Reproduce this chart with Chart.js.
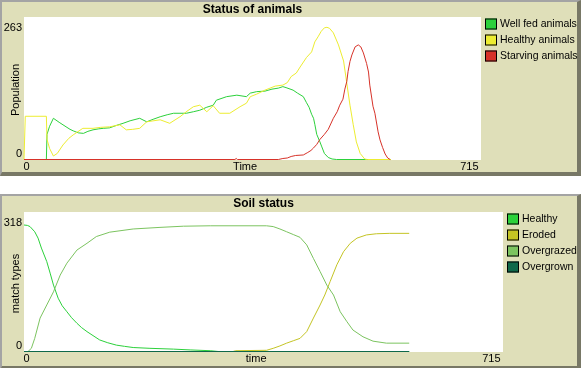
<!DOCTYPE html>
<html>
<head>
<meta charset="utf-8">
<script src="https://cdn.jsdelivr.net/npm/chart.js@4"></script>
<style>
html,body{margin:0;padding:0;background:#ffffff;width:582px;height:368px;overflow:hidden;position:relative}
.panel{position:absolute;left:0;width:581px;box-sizing:border-box;background:#dfdfb9;
  border-top:2px solid #a4a4a4;border-left:2px solid #a4a4a4;border-right:4px solid #787866;border-bottom:4px solid #787866}
#p1{top:0;height:176px}
#p2{top:194px;height:176px}
canvas{position:absolute;left:0}
#c1{top:0}
#c2{top:194px}
</style>
</head>
<body>
<div class="panel" id="p1"></div>
<div class="panel" id="p2"></div>
<canvas id="c1" width="582" height="176"></canvas>
<canvas id="c2" width="582" height="174"></canvas>
<script>
// ---------- data: Status of animals (tick, count) ----------
const animalsTitle = 'Status of animals';
const animalsXLabel = 'Time';
const animalsYLabel = 'Population';
const animalsXRange = [0, 715];
const animalsYRange = [0, 263];
const animalsSeriesNames = ['Well fed animals', 'Healthy animals', 'Starving animals'];

const wellFedAnimals = [[0,0],[35,0],[36,50],[40,66],[46,82],[55,74],[61,69],[72,60],[77,57],[85,53],[93,52],[100,56],[108,59],[117,61],[124,62],[134,63],[145,68],[155,72],[166,77],[181,82],[192,75],[202,80],[213,85],[224,89],[234,92],[244,92],[254,92],[265,95],[275,98],[286,104],[296,108],[301,118],[317,125],[333,128],[348,125],[354,132],[364,135],[377,136],[388,140],[398,142],[405,145],[410,143],[421,138],[428,132],[437,125],[442,113],[446,104],[450,90],[453,82],[455,70],[458,50],[463,35],[466,25],[470,12],[476,4],[482,1],[489,0],[574,0]];
const healthyAnimals = [[0,0],[2,86],[35,86],[36,40],[40,22],[46,7],[52,12],[61,29],[70,42],[77,49],[92,62],[108,62],[120,64],[134,65],[150,69],[160,59],[170,60],[181,62],[192,75],[213,79],[228,72],[244,85],[255,96],[265,105],[275,108],[286,95],[296,107],[306,92],[322,92],[338,105],[348,112],[354,125],[364,130],[377,138],[393,146],[405,148],[412,153],[418,165],[426,172],[432,184],[442,203],[450,214],[455,234],[460,244],[465,255],[470,262],[474,263],[478,261],[484,252],[492,228],[500,196],[505,152],[510,108],[515,70],[520,35],[526,12],[533,1],[537,0],[574,0]];
const starvingAnimals = [[0,0],[330,0],[332,2],[334,0],[398,0],[405,2],[412,3],[418,6],[425,8],[437,9],[444,14],[449,18],[453,23],[458,30],[463,40],[470,50],[476,60],[484,82],[490,95],[494,108],[499,120],[502,140],[505,155],[507,175],[510,195],[513,208],[518,224],[523,228],[527,224],[531,212],[536,191],[539,174],[541,148],[546,106],[549,92],[554,55],[557,39],[561,24],[565,11],[569,3],[573,0],[574,0]];

// ---------- data: Soil status (tick, patch count) ----------
const soilTitle = 'Soil status';
const soilXLabel = 'time';
const soilYLabel = 'match types';
const soilXRange = [0, 715];
const soilYRange = [0, 318];
const soilSeriesNames = ['Healthy', 'Eroded', 'Overgrazed', 'Overgrown'];

const soilHealthy = [[0,318],[5,317],[9,314],[16,301],[21,285],[26,260],[34,226],[39,197],[44,167],[51,134],[57,115],[64,100],[71,85],[79,71],[86,60],[94,50],[103,40],[113,29],[125,22],[138,16],[150,13],[163,10],[188,8],[223,6],[248,4],[278,2],[290,0],[575,0]];
const soilEroded = [[0,0],[312,0],[316,2],[362,3],[372,8],[382,14],[392,21],[402,27],[412,33],[422,50],[432,84],[442,117],[449,142],[457,176],[467,218],[477,251],[487,272],[497,285],[511,293],[526,296],[546,297],[575,297]];
const soilOvergrazed = [[0,0],[6,0],[11,8],[16,33],[24,84],[34,117],[44,150],[54,192],[64,222],[79,255],[94,272],[108,289],[128,300],[163,308],[203,312],[238,315],[278,316],[362,316],[372,314],[382,308],[392,301],[402,294],[412,287],[422,268],[432,234],[442,201],[452,167],[462,142],[472,100],[482,75],[491,54],[506,37],[521,26],[541,21],[575,21]];
const soilOvergrown = [[0,0],[575,0]];

// ---------- styles ----------
const animalColors = ['rgb(44,209,59)', 'rgb(237,237,49)', 'rgb(215,50,41)'];
const soilColors = ['rgb(44,209,59)', 'rgb(196,196,36)', 'rgb(124,196,96)', 'rgb(14,104,74)'];
const FONT = '"Liberation Sans", Arial, sans-serif';

const toPoints = arr => arr.map(p => ({x: p[0], y: p[1]}));

const netlogoPlot = {
  id: 'netlogoPlot',
  beforeDatasetsDraw(chart, args, o) {
    const ctx = chart.ctx, a = chart.chartArea;
    ctx.save();
    ctx.fillStyle = '#ffffff';
    const top = a.top - o.headroom;
    ctx.fillRect(a.left, top, a.right - a.left, a.bottom + 0.5 - top);
    ctx.restore();
  },
  afterDraw(chart, args, o) {
    const ctx = chart.ctx, a = chart.chartArea;
    const xs = chart.scales.x, ys = chart.scales.y;
    const boxTop = a.top - o.headroom, boxBottom = a.bottom + 0.5;
    ctx.save();
    ctx.fillStyle = '#000';
    // title
    ctx.font = 'bold 12px ' + FONT;
    ctx.textAlign = 'center';
    ctx.textBaseline = 'middle';
    ctx.fillText(o.title, (a.left + a.right) / 2, o.titleY);
    // y tick labels
    ctx.font = '11px ' + FONT;
    ctx.textAlign = 'right';
    ctx.textBaseline = 'middle';
    ctx.fillText(String(ys.max), a.left - 2, boxTop + 10.5);
    ctx.textBaseline = 'alphabetic';
    ctx.fillText(String(ys.min), a.left - 2, boxBottom - 3.5);
    // x tick labels
    ctx.textBaseline = 'middle';
    ctx.textAlign = 'left';
    const minX = String(xs.min), maxX = String(xs.max);
    ctx.fillText(minX, xs.getPixelForValue(xs.min) - 0.5, boxBottom + 7);
    ctx.textAlign = 'right';
    ctx.fillText(maxX, xs.getPixelForValue(xs.max) - 2.5, boxBottom + 7);
    // x axis title centered between tick labels
    const l = a.left + ctx.measureText(minX).width;
    const r = a.right - 2.5 - ctx.measureText(maxX).width;
    ctx.textAlign = 'center';
    ctx.fillText(o.xLabel, (l + r) / 2, boxBottom + 7);
    // y axis title
    ctx.save();
    ctx.translate(16, (boxTop + boxBottom) / 2 + 1.5);
    ctx.rotate(-Math.PI / 2);
    ctx.textAlign = 'center';
    ctx.textBaseline = 'middle';
    ctx.fillText(o.yLabel, 0, 0);
    ctx.restore();
    // legend
    ctx.font = o.legendFont + 'px ' + FONT;
    ctx.textAlign = 'left';
    ctx.textBaseline = 'middle';
    chart.data.datasets.forEach((ds, i) => {
      const bx = a.right + 4, by = boxTop + 1.5 + i * 16;
      ctx.fillStyle = ds.borderColor;
      ctx.fillRect(bx, by, 12, 11);
      ctx.strokeStyle = '#000';
      ctx.lineWidth = 1;
      ctx.strokeRect(bx + 0.5, by + 0.5, 11, 10);
      ctx.fillStyle = '#000';
      ctx.fillText(ds.label, bx + 15, by + 6);
    });
    ctx.restore();
  }
};

function makeChart(id, names, series, colors, xr, yr, pad, plotOpts) {
  const n = series.length;
  return new Chart(document.getElementById(id), {
    type: 'line',
    data: {
      datasets: series.map((s, i) => ({
        label: names[i],
        data: toPoints(s),
        borderColor: colors[i],
        backgroundColor: colors[i],
        borderWidth: 1,
        pointRadius: 0,
        tension: 0,
        fill: false,
        clip: false,
        order: n - i
      }))
    },
    options: {
      responsive: false,
      animation: false,
      devicePixelRatio: 1,
      layout: {padding: pad},
      scales: {
        x: {type: 'linear', min: xr[0], max: xr[1], display: false},
        y: {type: 'linear', min: yr[0], max: yr[1], display: false}
      },
      plugins: {
        legend: {display: false},
        title: {display: false},
        tooltip: {enabled: false},
        netlogoPlot: plotOpts
      }
    },
    plugins: [netlogoPlot]
  });
}

makeChart('c1', animalsSeriesNames, [wellFedAnimals, healthyAnimals, starvingAnimals], animalColors,
  animalsXRange, animalsYRange,
  {left: 24, right: 101, top: 27.3, bottom: 16.5},
  {title: animalsTitle, titleY: 10, xLabel: animalsXLabel, yLabel: animalsYLabel, headroom: 10.3, legendFont: 10.5});

makeChart('c2', soilSeriesNames, [soilHealthy, soilEroded, soilOvergrazed, soilOvergrown], soilColors,
  soilXRange, soilYRange,
  {left: 24, right: 79, top: 31, bottom: 16.5},
  {title: soilTitle, titleY: 9.5, xLabel: soilXLabel, yLabel: soilYLabel, headroom: 13, legendFont: 10.5});
</script>
</body>
</html>
